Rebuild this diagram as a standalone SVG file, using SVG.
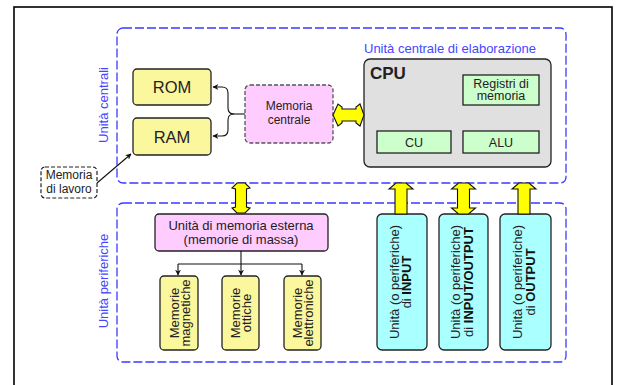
<svg xmlns="http://www.w3.org/2000/svg" width="619" height="385" viewBox="0 0 619 385">
  <style>
    text { font-family: "Liberation Sans", Arial, sans-serif; fill: #222; }
    .frame { fill: none; stroke: #000; stroke-width: 1.6; }
    .area { fill: none; stroke: #3a3aff; stroke-width: 1.3; stroke-dasharray: 9 3; }
    .area-label { fill: #4646ff; font-size: 13px; }
    .box { stroke: #222; stroke-width: 1.3; }
    .mem { fill: #fbf79c; }
    .pink { fill: #ffccff; }
    .green { fill: #ccffcc; }
    .cyan { fill: #aaffff; }
    .cpu { fill: #e0e0e0; }
    .dashed { stroke: #555; stroke-dasharray: 4 2; }
    .note { fill: #fff; stroke: #222; stroke-width: 1.2; stroke-dasharray: 4 2; }
    .bus { fill: #ffff00; stroke: #111; stroke-width: 1.1; stroke-linejoin: miter; }
    .link { fill: none; stroke: #111; stroke-width: 1.1; }
  </style>
  <defs>
    <marker id="tip" viewBox="0 0 10 10" refX="9" refY="5" markerWidth="6" markerHeight="6" orient="auto-start-reverse" markerUnits="userSpaceOnUse">
      <path d="M0,0 L10,5 L0,10 L3,5 Z" fill="#111"/>
    </marker>
  </defs>

  <!-- page frame -->
  <rect class="frame" x="14" y="7" width="598" height="392"/>

  <!-- areas -->
  <g id="unita-centrali">
    <rect class="area" x="117" y="28" width="449" height="155" rx="6"/>
    <text class="area-label" transform="translate(108,105) rotate(-90)" text-anchor="middle">Unità centrali</text>
    <text class="area-label" x="450" y="53" text-anchor="middle">Unità centrale di elaborazione</text>
  </g>
  <g id="unita-periferiche">
    <rect class="area" x="117" y="203" width="449" height="159" rx="6"/>
    <text class="area-label" transform="translate(108,281) rotate(-90)" text-anchor="middle">Unità periferiche</text>
  </g>

  <!-- central memory -->
  <g id="rom">
    <rect class="box mem" x="133" y="69" width="78" height="36" rx="4"/>
    <text x="172" y="93" text-anchor="middle" font-size="16.5">ROM</text>
  </g>
  <g id="ram">
    <rect class="box mem" x="133" y="118" width="78" height="37" rx="4"/>
    <text x="172" y="142.5" text-anchor="middle" font-size="16.5">RAM</text>
  </g>
  <g id="memoria-centrale">
    <rect class="box pink dashed" x="245" y="85" width="88" height="58" rx="5"/>
    <text x="289" y="110" text-anchor="middle" font-size="12" fill="#333">Memoria</text>
    <text x="289" y="123.5" text-anchor="middle" font-size="12" fill="#333">centrale</text>
  </g>
  <g id="memoria-lavoro">
    <rect class="note" x="41" y="167" width="56" height="31" rx="4"/>
    <text x="69" y="178.5" text-anchor="middle" font-size="12">Memoria</text>
    <text x="69" y="192.5" text-anchor="middle" font-size="12">di lavoro</text>
  </g>

  <!-- processor -->
  <g id="cpu">
    <rect class="box cpu" x="364" y="59" width="187" height="108" rx="6"/>
    <text x="370" y="79" font-size="17" font-weight="bold" fill="#111">CPU</text>
  </g>
  <g id="registri">
    <rect class="box green" x="463" y="75" width="76" height="30"/>
    <text x="501" y="87.5" text-anchor="middle" font-size="12.5">Registri di</text>
    <text x="501" y="100" text-anchor="middle" font-size="12.5">memoria</text>
  </g>
  <g id="cu">
    <rect class="box green" x="377" y="131" width="74" height="22"/>
    <text x="414" y="146.5" text-anchor="middle" font-size="12.5">CU</text>
  </g>
  <g id="alu">
    <rect class="box green" x="463" y="131" width="76" height="22"/>
    <text x="501" y="146.5" text-anchor="middle" font-size="12.5">ALU</text>
  </g>

  <!-- mass storage -->
  <g id="memoria-esterna">
    <rect class="box pink" x="155" y="214" width="173" height="37" rx="4"/>
    <text x="241" y="229.5" text-anchor="middle" font-size="13">Unità di memoria esterna</text>
    <text x="241" y="243.5" text-anchor="middle" font-size="13">(memorie di massa)</text>
  </g>
  <g id="memorie-magnetiche">
    <rect class="box mem" x="160" y="276" width="38" height="74" rx="4"/>
    <g transform="translate(179,313) rotate(-90)" font-size="13">
      <text x="0" y="-0.5" text-anchor="middle">Memorie</text>
      <text x="0" y="10.5" text-anchor="middle">magnetiche</text>
    </g>
  </g>
  <g id="memorie-ottiche">
    <rect class="box mem" x="222" y="276" width="37" height="74" rx="4"/>
    <g transform="translate(240.5,313) rotate(-90)" font-size="13">
      <text x="0" y="-0.5" text-anchor="middle">Memorie</text>
      <text x="0" y="10.5" text-anchor="middle">ottiche</text>
    </g>
  </g>
  <g id="memorie-elettroniche">
    <rect class="box mem" x="284" y="276" width="37" height="74" rx="4"/>
    <g transform="translate(302.5,313) rotate(-90)" font-size="13">
      <text x="0" y="-0.5" text-anchor="middle">Memorie</text>
      <text x="0" y="10.5" text-anchor="middle">elettroniche</text>
    </g>
  </g>

  <!-- peripherals -->
  <g id="input">
    <rect class="box cyan" x="377" y="214" width="50" height="136" rx="5"/>
    <g transform="translate(402,282) rotate(-90)" font-size="13">
      <text x="0" y="-3.5" text-anchor="middle">Unità (o periferiche)</text>
      <text x="0" y="9" text-anchor="middle">di <tspan font-weight="bold" fill="#111">INPUT</tspan></text>
    </g>
  </g>
  <g id="input-output">
    <rect class="box cyan" x="439" y="214" width="49" height="136" rx="5"/>
    <g transform="translate(463.5,282) rotate(-90)" font-size="13">
      <text x="0" y="-3.5" text-anchor="middle">Unità (o periferiche)</text>
      <text x="0" y="9" text-anchor="middle">di <tspan font-weight="bold" fill="#111">INPUT/OUTPUT</tspan></text>
    </g>
  </g>
  <g id="output">
    <rect class="box cyan" x="500" y="214" width="51" height="136" rx="5"/>
    <g transform="translate(525.5,282) rotate(-90)" font-size="13">
      <text x="0" y="-3.5" text-anchor="middle">Unità (o periferiche)</text>
      <text x="0" y="9" text-anchor="middle">di <tspan font-weight="bold" fill="#111">OUTPUT</tspan></text>
    </g>
  </g>

  <!-- connectors -->
  <g id="connectors">
    <!-- memoria centrale to ROM / RAM -->
    <path class="link" d="M245,114 H234"/>
    <path class="link" marker-end="url(#tip)" d="M234,114 Q228,114 228,108 V93 Q228,87 222,87 H213"/>
    <path class="link" marker-end="url(#tip)" d="M234,114 Q228,114 228,120 V130 Q228,136 222,136 H213"/>
    <!-- memoria di lavoro to RAM -->
    <path class="link" marker-end="url(#tip)" d="M97,183 L131,154"/>
    <!-- mass storage tree -->
    <path class="link" d="M241,251 V264 M178,264 H302"/>
    <path class="link" marker-end="url(#tip)" d="M178,264 V275"/>
    <path class="link" marker-end="url(#tip)" d="M241,264 V275"/>
    <path class="link" marker-end="url(#tip)" d="M302,264 V275"/>

    <!-- buses -->
    <polygon class="bus" points="333,115 338,104 342,107 342,109 356,109 356,107 360,104 364,115 360,126 356,123 356,121 342,121 342,123 338,126"/>
    <polygon class="bus" points="237,183 245,183 250,188 246.5,189 246.5,207 250,208 245,213 237,213 232,208 235.5,207 235.5,189 232,188"/>
    <polygon class="bus" points="396,183 406,183 413,189 407,189 407,214 395,214 395,189 389,189"/>
    <polygon class="bus" points="458.5,183 468.5,183 475.5,189 469.5,189 469.5,208 475.5,208 468.5,214 458.5,214 451.5,208 457.5,208 457.5,189 451.5,189"/>
    <polygon class="bus" points="519,183 529,183 536,189 530,189 530,214 518,214 518,189 512,189"/>
  </g>
</svg>
